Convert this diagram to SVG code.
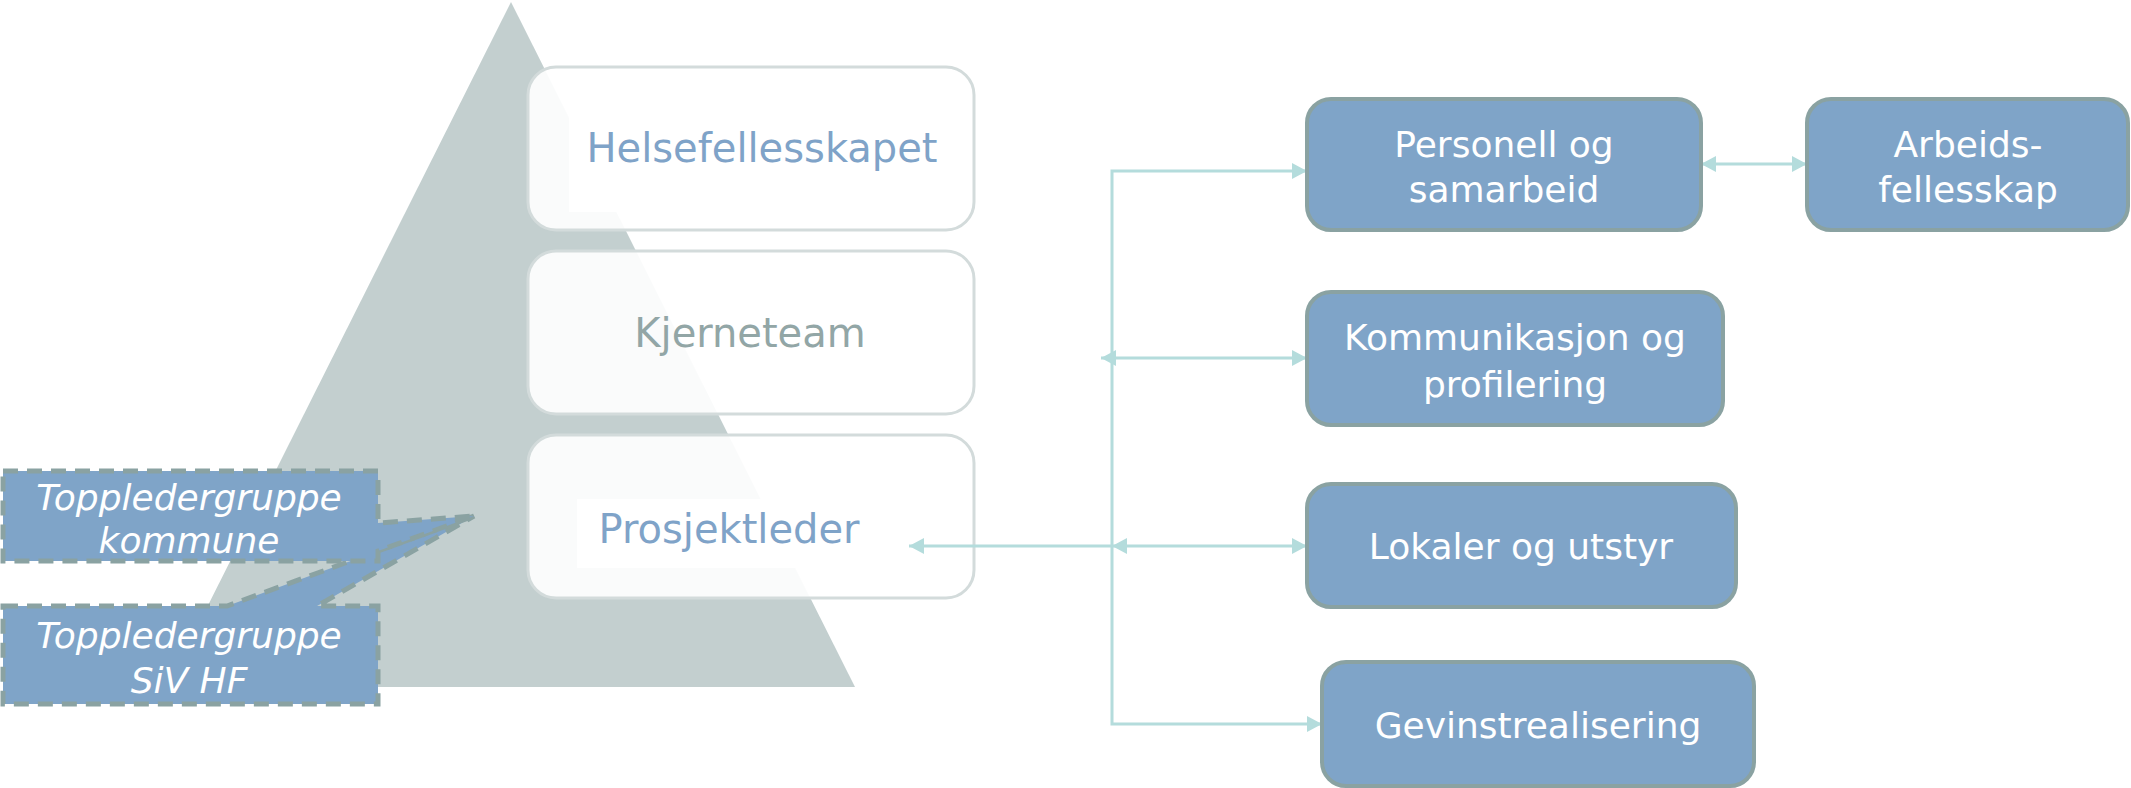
<svg xmlns="http://www.w3.org/2000/svg" width="2131" height="788" viewBox="0 0 2131 788">
<style>
.lvl{fill:#ffffff;fill-opacity:0.92;stroke:#d3dbdb;stroke-width:3}
.bg{fill:#ffffff}
.t{font-family:"DejaVu Sans",Verdana,sans-serif;text-anchor:middle}
.blue{fill:#7fa3c8}
.gray{fill:#92a6a6}
.box{fill:#7fa4c8;stroke:#8aa2a2;stroke-width:4}
.wt{fill:#ffffff;font-size:36px}
.call{fill:#7fa4c8;stroke:#8aa2a2;stroke-width:5;stroke-dasharray:15 9}
.it{font-style:italic}
.con{fill:none;stroke:#b4dcdc;stroke-width:3}
</style>
<defs>
<marker id="ah" markerUnits="userSpaceOnUse" markerWidth="16" markerHeight="18" refX="15" refY="8" orient="auto-start-reverse">
<path d="M0,0 L15,8 L0,16 Z" fill="#b4dcdc"/>
</marker>
</defs>
<g id="pyramid">
<polygon points="511,2 855,687 167,687" fill="#c3cfcf"/>
</g>
<g id="helsefellesskapet">
<rect class="lvl" x="528" y="67" width="446" height="163" rx="28"/>
<rect class="bg" x="569" y="78" width="390" height="134"/>
<text class="t blue" x="762" y="162" font-size="40">Helsefellesskapet</text>
</g>
<g id="kjerneteam">
<rect class="lvl" x="528" y="251" width="446" height="163" rx="28"/>
<text class="t gray" x="750" y="347" font-size="40">Kjerneteam</text>
</g>
<g id="prosjektleder">
<rect class="lvl" x="528" y="435" width="446" height="163" rx="28"/>
<rect class="bg" x="577" y="499" width="320" height="69"/>
<text class="t blue" x="729" y="543" font-size="40">Prosjektleder</text>
</g>
<g id="toppledergruppe-siv">
<path class="call" d="M3,606 H227 L474,516 L317,606 H378 V704 H3 Z"/>
<text class="t wt it" x="189" y="648">Toppledergruppe</text>
<text class="t wt it" x="189" y="693">SiV HF</text>
</g>
<g id="toppledergruppe-kommune">
<path class="call" d="M3,471 H378 V523 L474,516 L378,551 V561 H3 Z"/>
<text class="t wt it" x="189" y="510">Toppledergruppe</text>
<text class="t wt it" x="189" y="553">kommune</text>
</g>
<g id="connectors">
<path class="con" d="M1307,171 H1112 V724 H1322" marker-start="url(#ah)" marker-end="url(#ah)"/>
<path class="con" d="M1101,358 H1307" marker-start="url(#ah)" marker-end="url(#ah)"/>
<path class="con" d="M1112,546 H909" marker-end="url(#ah)"/>
<path class="con" d="M1112,546 H1307" marker-start="url(#ah)" marker-end="url(#ah)"/>
<path class="con" d="M1701,164 H1807" marker-start="url(#ah)" marker-end="url(#ah)"/>
</g>
<g id="personell">
<rect class="box" x="1307" y="99" width="394" height="131" rx="24"/>
<text class="t wt" x="1504" y="157">Personell og</text>
<text class="t wt" x="1504" y="202">samarbeid</text>
</g>
<g id="arbeidsfellesskap">
<rect class="box" x="1807" y="99" width="321" height="131" rx="24"/>
<text class="t wt" x="1968" y="157">Arbeids-</text>
<text class="t wt" x="1968" y="202">fellesskap</text>
</g>
<g id="kommunikasjon">
<rect class="box" x="1307" y="292" width="416" height="133" rx="24"/>
<text class="t wt" x="1515" y="350">Kommunikasjon og</text>
<text class="t wt" x="1515" y="397">profilering</text>
</g>
<g id="lokaler">
<rect class="box" x="1307" y="484" width="429" height="123" rx="24"/>
<text class="t wt" x="1521" y="559">Lokaler og utstyr</text>
</g>
<g id="gevinst">
<rect class="box" x="1322" y="662" width="432" height="124" rx="24"/>
<text class="t wt" x="1538" y="738">Gevinstrealisering</text>
</g>
</svg>
